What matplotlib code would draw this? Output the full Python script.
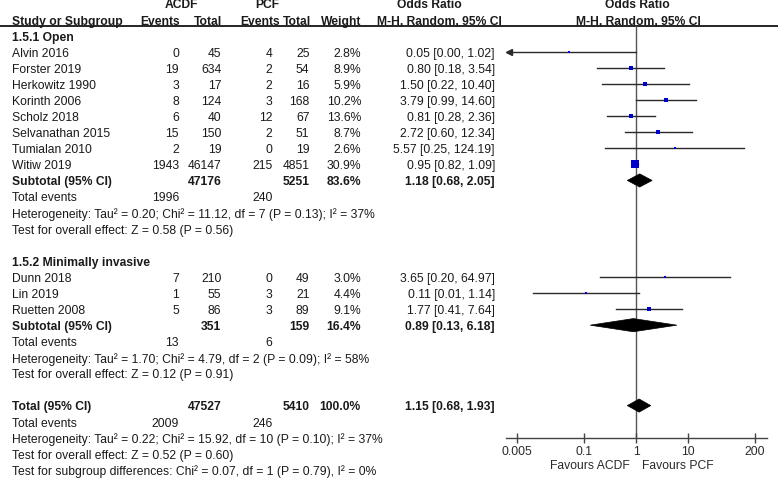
import matplotlib
matplotlib.use("Agg")
import matplotlib.pyplot as plt
from matplotlib.patches import Polygon

plt.rcParams['font.family'] = ['Liberation Sans', 'DejaVu Sans']

# 1.5.1 Open
open_study = ["Alvin 2016", "Forster 2019", "Herkowitz 1990", "Korinth 2006",
              "Scholz 2018", "Selvanathan 2015", "Tumialan 2010", "Witiw 2019"]
open_ev_acdf = [0, 19, 3, 8, 6, 15, 2, 1943]
open_n_acdf = [45, 634, 17, 124, 40, 150, 19, 46147]
open_ev_pcf = [4, 2, 2, 3, 12, 2, 0, 215]
open_n_pcf = [25, 54, 16, 168, 67, 51, 19, 4851]
open_weight = [2.8, 8.9, 5.9, 10.2, 13.6, 8.7, 2.6, 30.9]
open_or = [0.05, 0.80, 1.50, 3.79, 0.81, 2.72, 5.57, 0.95]
open_lo = [0.00, 0.18, 0.22, 0.99, 0.28, 0.60, 0.25, 0.82]
open_hi = [1.02, 3.54, 10.40, 14.60, 2.36, 12.34, 124.19, 1.09]
open_sub = dict(n_acdf=47176, n_pcf=5251, weight=83.6, est=1.18, lo=0.68, hi=2.05,
                ev_acdf=1996, ev_pcf=240)
open_het = "Heterogeneity: Tau² = 0.20; Chi² = 11.12, df = 7 (P = 0.13); I² = 37%"
open_test = "Test for overall effect: Z = 0.58 (P = 0.56)"

# 1.5.2 Minimally invasive
mi_study = ["Dunn 2018", "Lin 2019", "Ruetten 2008"]
mi_ev_acdf = [7, 1, 5]
mi_n_acdf = [210, 55, 86]
mi_ev_pcf = [0, 3, 3]
mi_n_pcf = [49, 21, 89]
mi_weight = [3.0, 4.4, 9.1]
mi_or = [3.65, 0.11, 1.77]
mi_lo = [0.20, 0.01, 0.41]
mi_hi = [64.97, 1.14, 7.64]
mi_sub = dict(n_acdf=351, n_pcf=159, weight=16.4, est=0.89, lo=0.13, hi=6.18,
              ev_acdf=13, ev_pcf=6)
mi_het = "Heterogeneity: Tau² = 1.70; Chi² = 4.79, df = 2 (P = 0.09); I² = 58%"
mi_test = "Test for overall effect: Z = 0.12 (P = 0.91)"

# overall
total = dict(n_acdf=47527, n_pcf=5410, weight=100.0, est=1.15, lo=0.68, hi=1.93,
             ev_acdf=2009, ev_pcf=246)
total_het = "Heterogeneity: Tau² = 0.22; Chi² = 15.92, df = 10 (P = 0.10); I² = 37%"
total_test = "Test for overall effect: Z = 0.52 (P = 0.60)"
subgroup_test = "Test for subgroup differences: Chi² = 0.07, df = 1 (P = 0.79), I² = 0%"

xticks = [0.005, 0.1, 1, 10, 200]
xtick_labels = ["0.005", "0.1", "1", "10", "200"]

# layout (pixels)
W, H = 778, 480
Y0, DY = 5.5, 16.08
AX_L, AX_R, AX_TOP, AX_BOT = 506, 767, 26, 438.3
X_NAME, X_EA, X_NA, X_EP, X_NP, X_W, X_CI = 12, 179, 221.5, 272.5, 309.5, 361, 495
FS = 8.75
TXT = '#1a1a1a'

fig = plt.figure(figsize=(W / 100, H / 100), dpi=100)
tab = fig.add_axes([0, 0, 1, 1])
tab.set_xlim(0, W)
tab.set_ylim((H - Y0) / DY, -Y0 / DY)
tab.axis('off')

ax = fig.add_axes([AX_L / W, (H - AX_BOT) / H, (AX_R - AX_L) / W, (AX_BOT - AX_TOP) / H])
ax.set_xscale('log')
ax.set_xlim(0.00306, 342)
ax.set_ylim((AX_BOT - Y0) / DY, (AX_TOP - Y0) / DY)
ax.patch.set_visible(False)
for s in ['left', 'right', 'top']:
    ax.spines[s].set_visible(False)
ax.spines['bottom'].set_color('#444444')
ax.spines['bottom'].set_linewidth(1.0)
ax.set_yticks([])
ax.set_xticks(xticks)
ax.set_xticklabels(xtick_labels)
ax.minorticks_off()
ax.tick_params(axis='x', direction='inout', length=7, width=1, color='#444444',
               labelsize=FS, labelcolor='#2a2a2a', pad=2)
ax.axvline(1, color='#555555', lw=1.0, zorder=1)


def txt(x, row, s, ha='right', bold=False, color=TXT):
    tab.text(x, row, s, ha=ha, va='center', fontsize=FS, color=color,
             fontweight='bold' if bold else 'normal')


# headers
txt(181, 0, "ACDF", ha='center', bold=True)
txt(267, 0, "PCF", ha='center', bold=True)
txt(429, 0, "Odds Ratio", ha='center', bold=True)
txt(637, 0, "Odds Ratio", ha='center', bold=True)
txt(X_NAME, 1, "Study or Subgroup", ha='left', bold=True)
txt(180, 1, "Events", bold=True)
txt(222.5, 1, "Total", bold=True)
txt(279.5, 1, "Events", bold=True)
txt(311.5, 1, "Total", bold=True)
txt(361.5, 1, "Weight", bold=True)
txt(439, 1, "M-H, Random, 95% CI", ha='center', bold=True)
txt(638, 1, "M-H, Random, 95% CI", ha='center', bold=True)
tab.axhline((AX_TOP - Y0) / DY, color='black', lw=1.2)

xmin = ax.get_xlim()[0]


def study_rows(start, names, ea, na, ep, npc, w, est, lo, hi):
    wmax = max(open_weight + mi_weight)
    for i in range(len(names)):
        r = start + i
        txt(X_NAME, r, names[i], ha='left')
        txt(X_EA, r, str(ea[i]))
        txt(X_NA, r, str(na[i]))
        txt(X_EP, r, str(ep[i]))
        txt(X_NP, r, str(npc[i]))
        txt(X_W, r, f"{w[i]:.1f}%")
        txt(X_CI, r, f"{est[i]:.2f} [{lo[i]:.2f}, {hi[i]:.2f}]")
        yr = r - 0.12
        if lo[i] < xmin:
            ax.plot([xmin * 1.05, hi[i]], [yr, yr], color='#2a2a2a', lw=1.0, zorder=2)
            ax.plot([xmin * 1.12], [yr], marker='<', ms=4, color='#2a2a2a', zorder=2)
        else:
            ax.plot([lo[i], hi[i]], [yr, yr], color='#2a2a2a', lw=1.0, zorder=2)
        side = max(2.3, 7.2 * (w[i] / wmax) ** 0.5)
        ax.plot([est[i]], [yr], marker='s', ms=side * 0.72, color='#0000cc',
                mec='#0000cc', mew=0, zorder=3)


def summary_rows(r, label, d, het, test):
    txt(X_NAME, r, label, ha='left', bold=True)
    txt(X_NA, r, str(d['n_acdf']), bold=True)
    txt(X_NP, r, str(d['n_pcf']), bold=True)
    txt(X_W, r, f"{d['weight']:.1f}%", bold=True)
    txt(X_CI, r, f"{d['est']:.2f} [{d['lo']:.2f}, {d['hi']:.2f}]", bold=True)
    yr = r - 0.12
    h = 0.41
    ax.add_patch(Polygon([(d['lo'], yr), (d['est'], yr - h), (d['hi'], yr), (d['est'], yr + h)],
                         closed=True, facecolor='black', edgecolor='black', lw=0.5, zorder=3))
    txt(X_NAME, r + 1, "Total events", ha='left')
    txt(X_EA, r + 1, str(d['ev_acdf']))
    txt(X_EP, r + 1, str(d['ev_pcf']))
    txt(X_NAME, r + 2, het, ha='left')
    txt(X_NAME, r + 3, test, ha='left')


txt(X_NAME, 2, "1.5.1 Open", ha='left', bold=True)
study_rows(3, open_study, open_ev_acdf, open_n_acdf, open_ev_pcf, open_n_pcf,
           open_weight, open_or, open_lo, open_hi)
summary_rows(3 + len(open_study), "Subtotal (95% CI)", open_sub, open_het, open_test)

r2 = 3 + len(open_study) + 5
txt(X_NAME, r2, "1.5.2 Minimally invasive", ha='left', bold=True)
study_rows(r2 + 1, mi_study, mi_ev_acdf, mi_n_acdf, mi_ev_pcf, mi_n_pcf,
           mi_weight, mi_or, mi_lo, mi_hi)
summary_rows(r2 + 1 + len(mi_study), "Subtotal (95% CI)", mi_sub, mi_het, mi_test)

r3 = r2 + 1 + len(mi_study) + 5
summary_rows(r3, "Total (95% CI)", total, total_het, total_test)
txt(X_NAME, r3 + 4, subgroup_test, ha='left')

# favours labels under the axis
fav_row = (466 - Y0) / DY
txt(630, fav_row, "Favours ACDF", ha='right', color='#2a2a2a')
txt(642, fav_row, "Favours PCF", ha='left', color='#2a2a2a')

fig.savefig("out.png", dpi=100)
